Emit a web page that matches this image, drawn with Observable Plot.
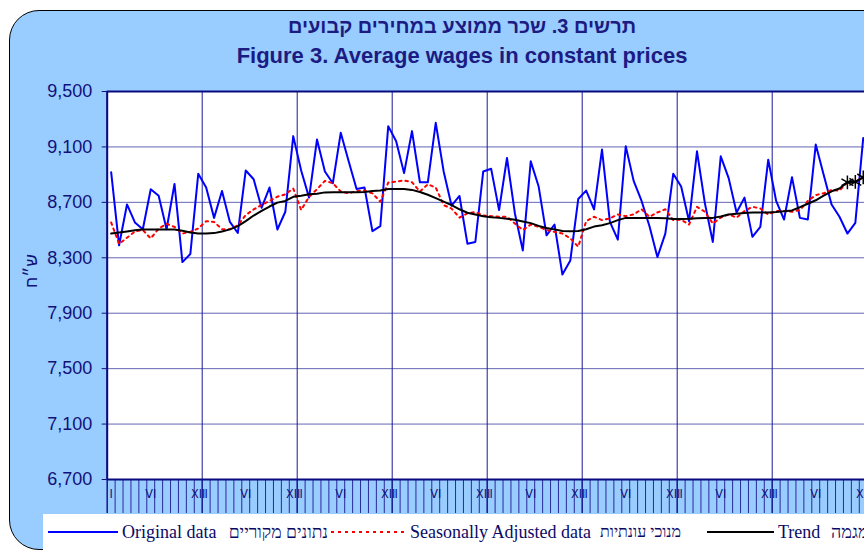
<!DOCTYPE html>
<html><head><meta charset="utf-8">
<script src="https://cdn.jsdelivr.net/npm/d3@7"></script>
<script src="https://cdn.jsdelivr.net/npm/@observablehq/plot@0.6"></script>
<style>
html,body{margin:0;padding:0;background:#fff;overflow:hidden}
#wrap{position:relative;width:864px;height:552px;overflow:hidden;background:#fff}
#panel{position:absolute;left:9px;top:10px;width:960px;height:538px;background:#99ccff;border:1.5px solid #000;border-radius:30px}
.t{position:absolute;left:0;width:924px;text-align:center;font-family:"Liberation Sans",Arial,sans-serif;font-weight:bold;color:#1b1b82;white-space:nowrap}
#chart{position:absolute;left:0;top:0;width:880px}
#chart svg{max-width:none!important}
#ylab{position:absolute;left:32px;top:271px;transform:translate(-50%,-50%) rotate(-90deg);font-family:"Liberation Sans",Arial,sans-serif;font-size:17px;color:#11117a;direction:rtl;white-space:nowrap}
#legend{position:absolute;left:43px;top:514px;width:900px;height:60px;background:#fff}
.lg{position:absolute;top:519px;height:26px;line-height:26px;font-family:"Liberation Serif","Times New Roman",serif;font-size:18px;color:#0a0a66;white-space:nowrap}
.he{direction:rtl;text-align:right}
</style></head>
<body>
<div id="wrap">
  <div id="panel"></div>
  <div class="t" style="top:15px;font-size:20px;direction:rtl">תרשים 3. שכר ממוצע במחירים קבועים</div>
  <div class="t" style="top:43px;font-size:22px">Figure 3. Average wages in constant prices</div>
  <div id="chart"></div>
  <div id="ylab">ש״ח</div>
  <div id="legend"></div>
  <svg id="lgsvg" width="864" height="552" style="position:absolute;left:0;top:0;pointer-events:none"></svg>
  <div class="lg" style="left:122px">Original data</div>
  <div class="lg he" style="left:200px;width:128px;font-size:17.5px">נתונים מקוריים</div>
  <div class="lg" style="left:410px">Seasonally Adjusted data</div>
  <div class="lg he" style="left:580px;width:101px;font-size:16px">מנוכי עונתיות</div>
  <div class="lg" style="left:778px">Trend</div>
  <div class="lg he" style="left:831px;width:70px;text-align:left;font-size:18px">מגמה</div>
</div>
<script>
// Monthly data, 8 years (96 months)
const original = [
  8918, 8390, 8685, 8555, 8506, 8795, 8748, 8506, 8833, 8269, 8327, 8906,
  8807, 8588, 8782, 8559, 8479, 8930, 8867, 8661, 8807, 8504, 8632, 9178,
  8930, 8734, 9153, 8923, 8838, 9202, 8996, 8797, 8807, 8492, 8528, 9250,
  9141, 8911, 9214, 8845, 8845, 9274, 8923, 8676, 8746, 8402, 8414, 8923,
  8942, 8644, 9020, 8620, 8353, 8996, 8814, 8462, 8540, 8179, 8281, 8724,
  8785, 8649, 9081, 8559, 8431, 9105, 8855, 8710, 8528, 8305, 8474, 8906,
  8814, 8564, 9068, 8693, 8414, 9032, 8875, 8627, 8734, 8451, 8523, 9008,
  8710, 8576, 8882, 8588, 8576, 9117, 8899, 8685, 8596, 8475, 8552, 9165
];
const seasonallyAdjusted = [
  8555, 8400, 8445, 8490, 8500, 8440, 8510, 8545, 8523, 8475, 8487, 8511,
  8564, 8559, 8506, 8506, 8535, 8608, 8649, 8681, 8710, 8741, 8758, 8800,
  8645, 8740, 8795, 8855, 8838, 8778, 8765, 8782, 8785, 8765, 8705, 8843,
  8850, 8858, 8845, 8778, 8830, 8807, 8680, 8655, 8590, 8620, 8630, 8605,
  8600, 8596, 8596, 8547, 8500, 8540, 8523, 8500, 8487, 8475, 8440, 8380,
  8564, 8596, 8572, 8584, 8613, 8600, 8613, 8650, 8596, 8627, 8650, 8572,
  8575, 8540, 8668, 8632, 8547, 8590, 8613, 8590, 8637, 8668, 8656, 8613,
  8637, 8637, 8632, 8644, 8710, 8753, 8765, 8790, 8785, 8845, 8848, 8885
];
const trend = [
  8475, 8482, 8490, 8498, 8504, 8504, 8504, 8504, 8504, 8495, 8482, 8475,
  8475, 8478, 8490, 8505, 8528, 8565, 8605, 8638, 8670, 8698, 8710, 8740,
  8748, 8758, 8762, 8772, 8773, 8773, 8773, 8773, 8775, 8782, 8786, 8797,
  8797, 8797, 8790, 8775, 8755, 8730, 8705, 8680, 8650, 8625, 8612, 8600,
  8592, 8588, 8582, 8574, 8562, 8550, 8530, 8515, 8505, 8494, 8492, 8494,
  8506, 8525, 8535, 8550, 8572, 8588, 8588, 8588, 8588, 8588, 8585, 8580,
  8580, 8582, 8586, 8588, 8588, 8598, 8612, 8618, 8624, 8627, 8627, 8627,
  8630, 8635, 8642, 8665, 8690, 8715, 8748, 8780, 8800, 8845, 8848, 8880
];
const monthLabels = ["I", "", "", "", "", "VI", "", "", "", "", "", "XII"];
const yTicks = [6700, 7100, 7500, 7900, 8300, 8700, 9100, 9500];
const nYears = 8;
const nMarked = 3; // last trend points shown with star markers

const nMonths = nYears * 12;
const rows = d3.range(nMonths).map(i => ({
  x: i + 0.5, orig: original[i], sa: seasonallyAdjusted[i], trend: trend[i]
}));
const monthBounds = d3.range(nMonths + 1);
const yearBounds = d3.range(0, nMonths + 1, 12);
const labelPos = d3.range(nMonths).filter(i => monthLabels[i % 12] !== "").map(i => i + 0.5);
const navy = "#11117a";

const chart = Plot.plot({
  width: 880, height: 520,
  marginTop: 91, marginLeft: 106.7, marginRight: 13.3, marginBottom: 41,
  x: {domain: [0, nMonths], axis: null, label: null},
  y: {domain: [yTicks[0], yTicks[yTicks.length - 1]], axis: null, label: null},
  style: {background: "transparent", fontFamily: "Liberation Sans, Arial, sans-serif", color: navy, overflow: "visible", maxWidth: "none"},
  marks: [
    Plot.frame({fill: "white", stroke: null}),
    Plot.gridY(yTicks, {stroke: "#4a4aa8", strokeOpacity: 0.85, strokeWidth: 1}),
    Plot.ruleX(yearBounds, {stroke: "#1a1a9a", strokeWidth: 1}),
    Plot.axisX(monthBounds, {tickSize: 34, label: null, fill: "none", stroke: "#2a2a9a", strokeWidth: 1}),
    Plot.axisX(yearBounds, {tickSize: 34, label: null, fill: "none", stroke: "#14148f", strokeWidth: 1.2}),
    Plot.axisX(labelPos, {tickSize: 0, tickPadding: 10, fontSize: 12.5, label: null, fill: navy,
      fontFamily: "Liberation Sans Narrow, DejaVu Sans Condensed, Arial Narrow, sans-serif",
      tickFormat: d => monthLabels[Math.floor(d) % 12]}),
    Plot.axisY(yTicks, {tickSize: 5, tickPadding: 10, fontSize: 18, label: null, color: navy,
      tickFormat: d3.format(",")}),
    Plot.ruleY([yTicks[0], yTicks[yTicks.length - 1]], {stroke: "#0a0a80", strokeWidth: 2}),
    Plot.ruleX([0], {stroke: "#0a0a80", strokeWidth: 2}),
    Plot.line(rows, {x: "x", y: "orig", stroke: "#0000ff", strokeWidth: 2}),
    Plot.line(rows, {x: "x", y: "sa", stroke: "#ff0000", strokeWidth: 2, strokeDasharray: "2.5,4"}),
    Plot.line(rows, {x: "x", y: "trend", stroke: "#000000", strokeWidth: 2}),
    Plot.dot(rows.slice(-nMarked), {x: "x", y: "trend", symbol: "asterisk", r: 6.5, stroke: "#000", strokeWidth: 1.5})
  ]
});
chart.style.maxWidth = "none";
document.getElementById("chart").appendChild(chart);

// legend samples
const lg = d3.select("#lgsvg");
const samples = [
  {x1: 48, x2: 118, stroke: "#0000ff", dash: null},
  {x1: 331, x2: 405, stroke: "#ff0000", dash: "3,4"},
  {x1: 707, x2: 774, stroke: "#000000", dash: null}
];
samples.forEach(s => {
  lg.append("line").attr("x1", s.x1).attr("x2", s.x2).attr("y1", 532).attr("y2", 532)
    .attr("stroke", s.stroke).attr("stroke-width", 2).attr("stroke-dasharray", s.dash);
});
</script>
</body></html>
